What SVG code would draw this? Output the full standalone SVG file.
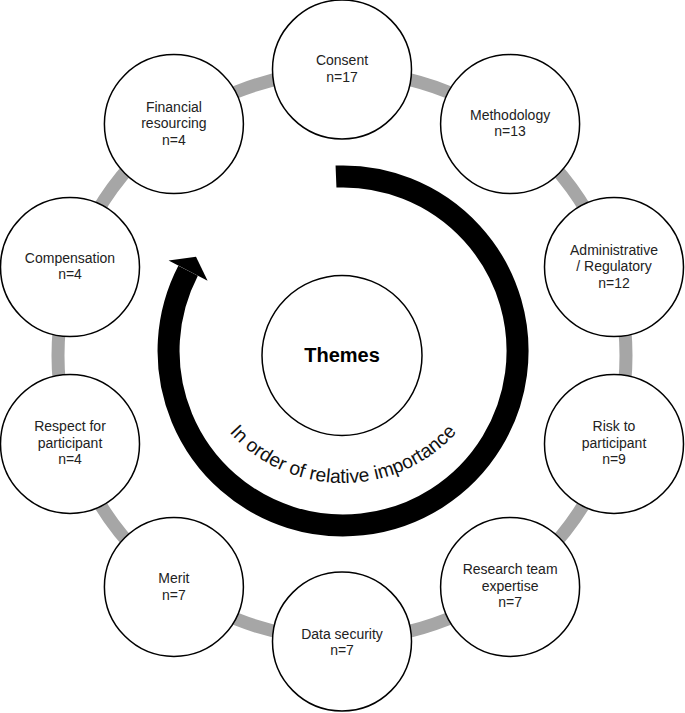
<svg xmlns="http://www.w3.org/2000/svg" width="685" height="713" viewBox="0 0 685 713">
  <defs>
    <style>
      .node circle { fill: #ffffff; stroke: #000000; stroke-width: 1.5; }
      .node text { font-family: "Liberation Sans", Arial, sans-serif; font-size: 14px; fill: #222222; text-anchor: middle; }
      .ring { fill: none; stroke: #a6a6a6; stroke-width: 13; }
      .theme circle { fill: #ffffff; stroke: #000000; stroke-width: 1.5; }
      .theme text { font-family: "Liberation Sans", Arial, sans-serif; font-size: 20px; font-weight: bold; fill: #000000; text-anchor: middle; }
      .arc-label { font-family: "Liberation Sans", Arial, sans-serif; font-size: 19.3px; fill: #111111; }
    </style>
    <path id="labelPath" d="M 199.2,382.3 A 153 153 0 0 0 486.8,382.3"/>
  </defs>
  <rect width="685" height="713" fill="#ffffff"/>

  <g id="connectors">
    <circle class="ring" cx="342" cy="355.5" r="284"/>
  </g>

  <g id="order-arrow">
    <path d="M 336,176.6 A 174.5 174.5 0 1 1 188.1,270.7" fill="none" stroke="#000000" stroke-width="22"/>
    <polygon points="168.6,260.6 196,256.8 207.6,280.8" fill="#000000"/>
    <text class="arc-label"><textPath href="#labelPath" startOffset="50%" text-anchor="middle">In order of relative importance</textPath></text>
  </g>

  <g id="themes" class="theme">
    <circle cx="342" cy="355.5" r="80"/>
    <text x="342" y="362">Themes</text>
  </g>

  <g id="consent" class="node">
    <circle cx="342" cy="69.5" r="69.5"/>
    <text x="342" y="65.3">Consent</text>
    <text x="342" y="81.8">n=17</text>
  </g>
  <g id="methodology" class="node">
    <circle cx="510.1" cy="124.1" r="69.5"/>
    <text x="510.1" y="119.9">Methodology</text>
    <text x="510.1" y="136.4">n=13</text>
  </g>
  <g id="administrative" class="node">
    <circle cx="614" cy="267.1" r="69.5"/>
    <text x="614" y="254.6">Administrative</text>
    <text x="614" y="271.1">/ Regulatory</text>
    <text x="614" y="287.6">n=12</text>
  </g>
  <g id="risk" class="node">
    <circle cx="614" cy="443.9" r="69.5"/>
    <text x="614" y="431.4">Risk to</text>
    <text x="614" y="447.9">participant</text>
    <text x="614" y="464.4">n=9</text>
  </g>
  <g id="research-team" class="node">
    <circle cx="510.1" cy="586.9" r="69.5"/>
    <text x="510.1" y="574.4">Research team</text>
    <text x="510.1" y="590.9">expertise</text>
    <text x="510.1" y="607.4">n=7</text>
  </g>
  <g id="data-security" class="node">
    <circle cx="342" cy="641.5" r="69.5"/>
    <text x="342" y="638.5">Data security</text>
    <text x="342" y="655">n=7</text>
  </g>
  <g id="merit" class="node">
    <circle cx="173.9" cy="586.9" r="69.5"/>
    <text x="173.9" y="583">Merit</text>
    <text x="173.9" y="599.5">n=7</text>
  </g>
  <g id="respect" class="node">
    <circle cx="70" cy="443.9" r="69.5"/>
    <text x="70" y="431.4">Respect for</text>
    <text x="70" y="447.9">participant</text>
    <text x="70" y="464.4">n=4</text>
  </g>
  <g id="compensation" class="node">
    <circle cx="70" cy="267.1" r="69.5"/>
    <text x="70" y="262.9">Compensation</text>
    <text x="70" y="279.4">n=4</text>
  </g>
  <g id="financial" class="node">
    <circle cx="173.9" cy="124.1" r="69.5"/>
    <text x="173.9" y="111.6">Financial</text>
    <text x="173.9" y="128.1">resourcing</text>
    <text x="173.9" y="144.6">n=4</text>
  </g>
</svg>
